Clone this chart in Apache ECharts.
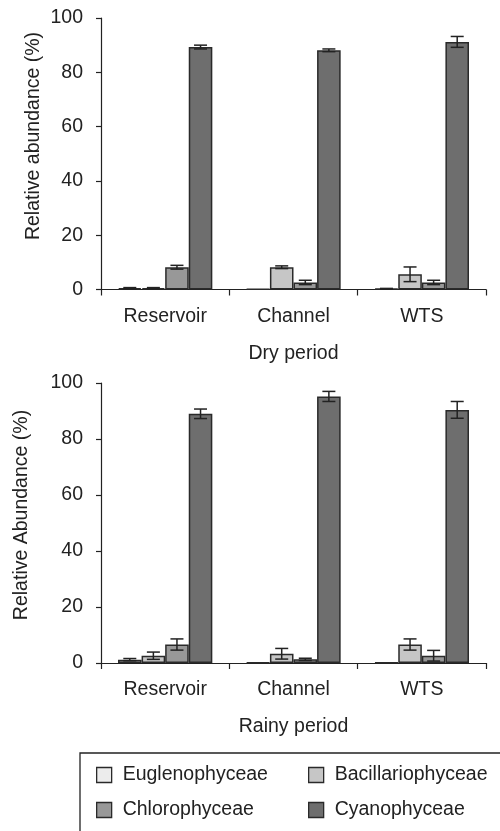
<!DOCTYPE html>
<html>
<head>
<meta charset="utf-8">
<script src="https://cdn.jsdelivr.net/npm/echarts@6/dist/echarts.min.js"></script>
<style>
html,body{margin:0;padding:0;background:#fff;}
#main{width:500px;height:831px;}
</style>
</head>
<body>
<div id="main"></div>
<script>
const categories = ['Reservoir', 'Channel', 'WTS'];
const seriesNames = ['Euglenophyceae', 'Bacillariophyceae', 'Chlorophyceae', 'Cyanophyceae'];
const yTicks = [0, 20, 40, 60, 80, 100];

// Dry period (mean, error)
const dryEugl = [0.5, 0.2, 0.3];
const dryEuglErr = [0.2, 0, 0.1];
const dryBacil = [0.5, 8.2, 5.6];
const dryBacilErr = [0.2, 0.5, 2.7];
const dryChlor = [8.2, 2.6, 2.6];
const dryChlorErr = [0.7, 0.8, 0.8];
const dryCyan = [89.3, 88.1, 91.2];
const dryCyanErr = [0.7, 0.5, 2.0];

// Rainy period (mean, error)
const rainEugl = [1.2, 0.2, 0.2];
const rainEuglErr = [0.4, 0, 0];
const rainBacil = [2.6, 3.3, 6.6];
const rainBacilErr = [1.3, 1.9, 2.0];
const rainChlor = [6.6, 1.3, 2.6];
const rainChlorErr = [2.0, 0.4, 1.9];
const rainCyan = [89.0, 95.2, 90.4];
const rainCyanErr = [1.7, 1.8, 3.0];

const colors = ['#ececec', '#c6c6c6', '#989898', '#6e6e6e'];
const FONT = '"Liberation Sans", Arial, sans-serif';
const FS = 19.5;
const TXT = '#222';
const CAT_GAP = 0.265;

const dryVals = [dryEugl, dryBacil, dryChlor, dryCyan];
const dryErrs = [dryEuglErr, dryBacilErr, dryChlorErr, dryCyanErr];
const rainVals = [rainEugl, rainBacil, rainChlor, rainCyan];
const rainErrs = [rainEuglErr, rainBacilErr, rainChlorErr, rainCyanErr];

const chart = echarts.init(document.getElementById('main'), null, {renderer: 'canvas'});

function yAxis(gi) {
  return {
    gridIndex: gi, type: 'value', min: 0, max: 100, interval: 20,
    axisLine: {show: true, lineStyle: {color: TXT, width: 1.2}},
    axisTick: {show: true, inside: false, length: 5, lineStyle: {color: TXT, width: 1.2}},
    splitLine: {show: false},
    axisLabel: {color: TXT, fontFamily: FONT, fontSize: FS, margin: 18,
      formatter: v => yTicks.indexOf(v) >= 0 ? String(v) : ''}
  };
}
function xAxis(gi, name) {
  return {
    gridIndex: gi, type: 'category', data: categories, boundaryGap: true,
    axisLine: {show: true, lineStyle: {color: TXT, width: 1.2}},
    axisTick: {show: true, alignWithLabel: false, length: 6, lineStyle: {color: TXT, width: 1.2}},
    axisLabel: {color: TXT, fontFamily: FONT, fontSize: FS, margin: 17},
    name: name, nameLocation: 'middle', nameGap: 54,
    nameTextStyle: {color: TXT, fontFamily: FONT, fontSize: FS}
  };
}

const series = [];
function addPanel(gi, vals, errs) {
  vals.forEach((arr, si) => {
    series.push({
      type: 'bar', name: seriesNames[si], xAxisIndex: gi, yAxisIndex: gi,
      data: arr, barGap: '0%', barCategoryGap: (CAT_GAP * 100) + '%',
      itemStyle: {color: colors[si], borderColor: '#2a2a2a', borderWidth: 1.5},
      emphasis: {disabled: true}, z: 2
    });
  });
  const edata = [];
  vals.forEach((arr, si) => {
    arr.forEach((v, ci) => {
      if (errs[si][ci] > 0) edata.push([ci, v - errs[si][ci], v + errs[si][ci], si]);
    });
  });
  series.push({
    type: 'custom', xAxisIndex: gi, yAxisIndex: gi, data: edata, z: 5,
    silent: true,
    renderItem: function (params, api) {
      const ci = api.value(0), lo = api.value(1), hi = api.value(2), si = api.value(3);
      const pLo = api.coord([ci, lo]);
      const pHi = api.coord([ci, hi]);
      const catW = api.size([1, 0])[0];
      const bw = catW * (1 - CAT_GAP) / 4;
      const x = pLo[0] + (si - 1.5) * bw;
      const cap = 6.5;
      const style = {stroke: '#222', lineWidth: 1.5, fill: null};
      return {
        type: 'group', children: [
          {type: 'line', shape: {x1: x, y1: pLo[1], x2: x, y2: pHi[1]}, style: style},
          {type: 'line', shape: {x1: x - cap, y1: pLo[1], x2: x + cap, y2: pLo[1]}, style: style},
          {type: 'line', shape: {x1: x - cap, y1: pHi[1], x2: x + cap, y2: pHi[1]}, style: style}
        ]
      };
    }
  });
}
addPanel(0, dryVals, dryErrs);
addPanel(1, rainVals, rainErrs);

const legendCommon = {
  orient: 'vertical', itemWidth: 15, itemHeight: 15, itemGap: 13,
  icon: 'rect', selectedMode: false, padding: 0, height: 70,
  textStyle: {color: TXT, fontFamily: FONT, fontSize: FS, lineHeight: 22, padding: [0, 0, 0, 6]},
  itemStyle: {borderColor: '#2a2a2a', borderWidth: 1.3}
};

chart.setOption({
  animation: false,
  backgroundColor: '#fff',
  grid: [
    {left: 101, width: 385, top: 18, height: 271.5},
    {left: 101, width: 385, top: 383, height: 280}
  ],
  xAxis: [xAxis(0, 'Dry period'), xAxis(1, 'Rainy period')],
  yAxis: [yAxis(0), yAxis(1)],
  legend: [
    Object.assign({}, legendCommon, {left: 96, top: 764, data: [seriesNames[0], seriesNames[2]]}),
    Object.assign({}, legendCommon, {left: 308, top: 764, data: [seriesNames[1], seriesNames[3]]})
  ],
  graphic: [
    {type: 'rect', shape: {x: 80, y: 753, width: 440, height: 120}, style: {fill: 'none', stroke: '#222', lineWidth: 1.3}, silent: true},
    {type: 'text', x: 34, y: 136, rotation: Math.PI / 2, style: {text: 'Relative abundance (%)', font: FS + 'px ' + FONT, fill: TXT, textAlign: 'center', textVerticalAlign: 'middle'}},
    {type: 'text', x: 22, y: 515, rotation: Math.PI / 2, style: {text: 'Relative Abundance (%)', font: FS + 'px ' + FONT, fill: TXT, textAlign: 'center', textVerticalAlign: 'middle'}}
  ],
  series: series
});
</script>
</body>
</html>
